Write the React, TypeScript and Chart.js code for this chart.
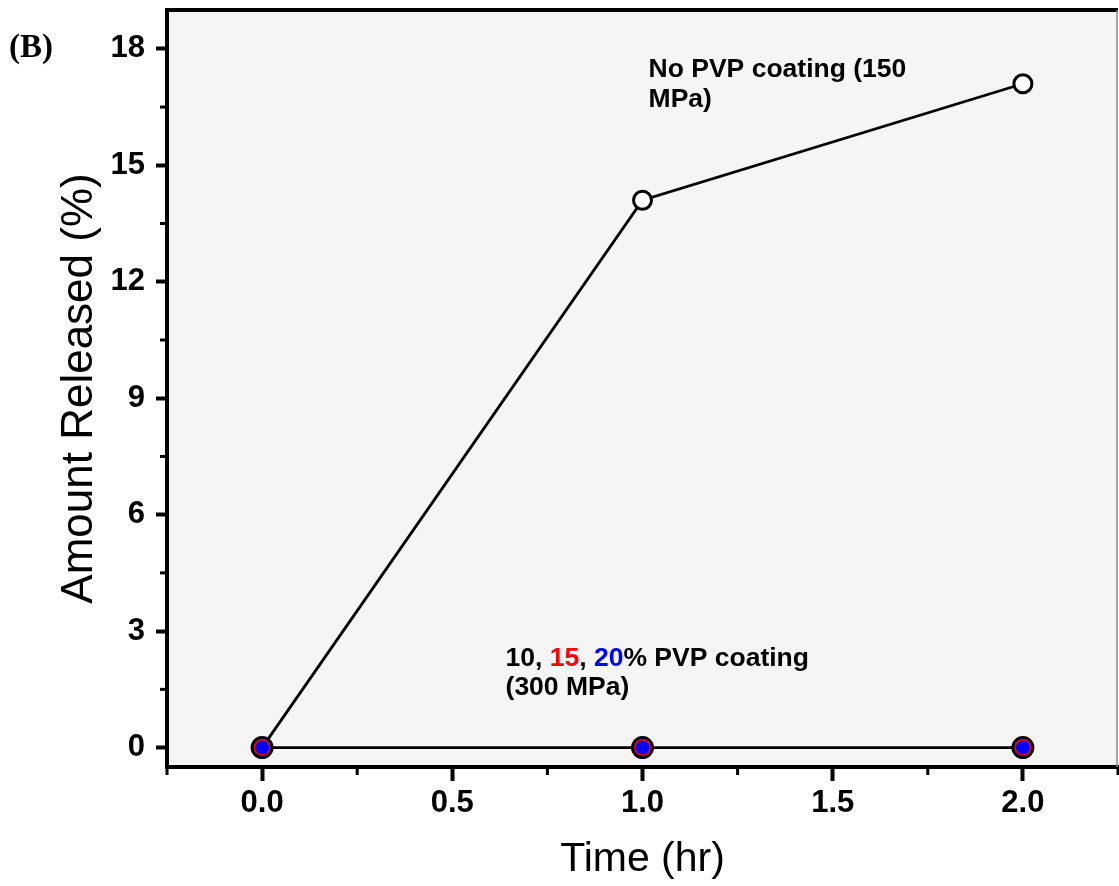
import React, { useEffect, useRef } from "react";
import { Chart, registerables } from "chart.js";

Chart.register(...registerables);

// ---- data ----
const timeHr = [0, 1, 2];
const noPvpValues = [0, 14.1, 17.1];
const pvpValues = [0, 0, 0];

const xMajorTicks = [0, 0.5, 1, 1.5, 2];
const xMinorTicks = [-0.25, 0.25, 0.75, 1.25, 1.75, 2.25];
const yMajorTicks = [0, 3, 6, 9, 12, 15, 18];
const yMinorTicks = [1.5, 4.5, 7.5, 10.5, 13.5, 16.5];

const xTitle = "Time (hr)";
const yTitle = "Amount Released (%)";
const panelLabel = "(B)";

const noPvpLabelLines = ["No PVP coating (150", "MPa)"];
const noPvpLabelX = 1.016;
const noPvpLabelYs = [17.28, 16.51];

const pvpLabelSegments: [string, string][] = [
  ["10, ", "#000000"],
  ["15", "#ff0000"],
  [", ", "#000000"],
  ["20", "#0000ff"],
  ["% PVP coating", "#000000"],
];
const pvpLabelLine2 = "(300 MPa)";
const pvpLabelX = 0.64;
const pvpLabelYs = [2.11, 1.36];

const SANS = "'Liberation Sans', Arial, Helvetica, sans-serif";
const SERIF = "'Liberation Serif', 'Times New Roman', serif";

const decorPlugin = {
  id: "decor",
  beforeDraw(chart: any) {
    const { ctx, chartArea: a } = chart;
    ctx.save();
    ctx.fillStyle = "#f5f5f5";
    ctx.fillRect(a.left, a.top, a.right - a.left, a.bottom - a.top);
    ctx.restore();
  },
  afterDraw(chart: any) {
    const { ctx, chartArea: a, scales } = chart;
    const xs = scales.x;
    const ys = scales.y;
    ctx.save();
    // top border
    ctx.strokeStyle = "#000";
    ctx.lineWidth = 4;
    ctx.beginPath();
    ctx.moveTo(a.left - 2, a.top);
    ctx.lineTo(a.right, a.top);
    ctx.stroke();
    // right border
    ctx.strokeStyle = "#8a8a8a";
    ctx.lineWidth = 1.5;
    ctx.beginPath();
    ctx.moveTo(a.right - 1, a.top);
    ctx.lineTo(a.right - 1, a.bottom);
    ctx.stroke();
    // minor ticks
    ctx.strokeStyle = "#000";
    ctx.lineWidth = 3;
    for (const v of xMinorTicks) {
      const px = xs.getPixelForValue(v);
      ctx.beginPath();
      ctx.moveTo(px, a.bottom);
      ctx.lineTo(px, a.bottom + 8);
      ctx.stroke();
    }
    for (const v of yMinorTicks) {
      const py = ys.getPixelForValue(v);
      ctx.beginPath();
      ctx.moveTo(a.left, py);
      ctx.lineTo(a.left - 7, py);
      ctx.stroke();
    }
    // annotations
    ctx.font = `bold 26.5px ${SANS}`;
    ctx.textBaseline = "alphabetic";
    ctx.textAlign = "left";
    ctx.fillStyle = "#000";
    noPvpLabelLines.forEach((line, i) => {
      ctx.fillText(line, xs.getPixelForValue(noPvpLabelX), ys.getPixelForValue(noPvpLabelYs[i]));
    });
    let px = xs.getPixelForValue(pvpLabelX);
    const py = ys.getPixelForValue(pvpLabelYs[0]);
    for (const [txt, col] of pvpLabelSegments) {
      ctx.fillStyle = col;
      ctx.fillText(txt, px, py);
      px += ctx.measureText(txt).width;
    }
    ctx.fillStyle = "#000";
    ctx.fillText(pvpLabelLine2, xs.getPixelForValue(pvpLabelX), ys.getPixelForValue(pvpLabelYs[1]));
    // panel label
    ctx.font = `bold 33px ${SERIF}`;
    ctx.fillText(panelLabel, 9, 57);
    ctx.restore();
  },
};

export default function App() {
  const canvasRef = useRef<HTMLCanvasElement | null>(null);

  useEffect(() => {
    const canvas = canvasRef.current;
    if (!canvas) return;
    Chart.defaults.font.family = SANS;
    const toPts = (vals: number[]) => timeHr.map((t, i) => ({ x: t, y: vals[i] }));
    const chart = new Chart(canvas, {
      type: "line",
      data: {
        datasets: [
          {
            label: "PVP inner",
            data: toPts(pvpValues),
            showLine: false,
            pointRadius: 7,
            pointBorderWidth: 0,
            pointBackgroundColor: "#0000ff",
            pointBorderColor: "#0000ff",
            order: 0,
          },
          {
            label: "10, 15, 20% PVP coating (300 MPa)",
            data: toPts(pvpValues),
            borderColor: "#000",
            borderWidth: 2.8,
            pointRadius: 10,
            pointBorderWidth: 3,
            pointBackgroundColor: "#ff0000",
            pointBorderColor: "#000",
            order: 1,
          },
          {
            label: "No PVP coating (150 MPa)",
            data: toPts(noPvpValues),
            borderColor: "#000",
            borderWidth: 2.8,
            pointRadius: 9,
            pointBorderWidth: 3,
            pointBackgroundColor: "#ffffff",
            pointBorderColor: "#000",
            order: 2,
          },
        ],
      },
      options: {
        animation: false,
        responsive: false,
        maintainAspectRatio: false,
        layout: { autoPadding: false, padding: { top: 10, right: 1, left: 0, bottom: 0 } },
        plugins: {
          legend: { display: false },
          tooltip: { enabled: false },
        },
        scales: {
          x: {
            type: "linear",
            min: -0.25,
            max: 2.25,
            afterBuildTicks: (s: any) => {
              s.ticks = xMajorTicks.map((value) => ({ value }));
            },
            afterFit: (s: any) => {
              s.height = 119;
              s.paddingLeft = 0;
              s.paddingRight = 0;
            },
            ticks: {
              callback: (v: any) => Number(v).toFixed(1),
              font: { size: 31, weight: "bold", family: SANS },
              color: "#000",
              padding: 4,
              maxRotation: 0,
              autoSkip: false,
            },
            grid: {
              drawOnChartArea: false,
              drawTicks: true,
              tickLength: 14,
              tickWidth: 4,
              tickColor: "#000",
            },
            border: { display: true, color: "#000", width: 4 },
            title: {
              display: true,
              text: xTitle,
              font: { size: 41, weight: "normal", family: SANS },
              color: "#000",
              padding: { top: 0, bottom: 2 },
            },
          },
          y: {
            type: "linear",
            min: -0.5,
            max: 19,
            afterBuildTicks: (s: any) => {
              s.ticks = yMajorTicks.map((value) => ({ value }));
            },
            afterFit: (s: any) => {
              s.width = 167;
              s.paddingTop = 0;
              s.paddingBottom = 0;
            },
            ticks: {
              callback: (v: any) => String(v),
              font: { size: 31, weight: "bold", family: SANS },
              color: "#000",
              padding: 11,
              autoSkip: false,
            },
            grid: {
              drawOnChartArea: false,
              drawTicks: true,
              tickLength: 11,
              tickWidth: 4,
              tickColor: "#000",
            },
            border: { display: true, color: "#000", width: 4 },
            title: {
              display: true,
              text: yTitle,
              font: { size: 44, weight: "normal", family: SANS },
              color: "#000",
              padding: { top: 53, bottom: 0 },
            },
          },
        },
      },
      plugins: [decorPlugin],
    });
    return () => chart.destroy();
  }, []);

  return (
    <div style={{ position: "absolute", left: 0, top: 0, width: 1119, height: 886, background: "#fff" }}>
      <canvas ref={canvasRef} width={1119} height={886} style={{ display: "block" }} />
    </div>
  );
}
